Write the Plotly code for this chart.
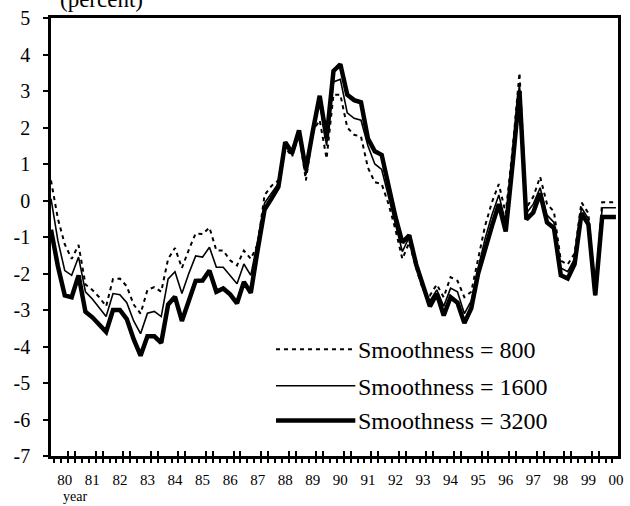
import plotly.graph_objects as go

# quarterly observations, 1979Q3 .. 2000Q1 (x = year + (quarter-1)/4)
start_year = 1979.5
n_points = 83
quarters = [start_year + 0.25 * i for i in range(n_points)]

smooth_800 = [
    0.55, -0.5,
    -1.2, -1.6, -1.22, -2.3,
    -2.45, -2.65, -2.9, -2.15,
    -2.14, -2.35, -2.85, -3.1,
    -2.45, -2.37, -2.5, -1.6,
    -1.3, -1.85, -1.35, -0.9,
    -0.92, -0.74, -1.37, -1.37,
    -1.64, -1.78, -1.37, -1.6,
    -1.2, 0.15, 0.4, 0.55,
    1.45, 1.2, 1.85, 0.55,
    1.9, 2.2, 1.15, 2.9,
    2.9, 2.0, 1.8, 1.75,
    0.9, 0.5, 0.45, -0.1,
    -0.8, -1.6, -1.15, -1.85,
    -2.45, -2.6, -2.3, -2.65,
    -2.1, -2.2, -2.65, -2.5,
    -1.6, -0.7, -0.05, 0.45,
    -0.35, 1.4, 3.5, -0.2,
    0.1, 0.65, -0.1, -0.3,
    -1.65, -1.75, -1.45, -0.05,
    -0.35, -2.55, -0.05, -0.05,
    -0.05,
]

smooth_1600 = [
    0.05, -1.1,
    -1.92, -2.05, -1.55, -2.5,
    -2.7, -2.95, -3.18, -2.55,
    -2.58, -2.8, -3.3, -3.65,
    -3.09, -3.04, -3.18, -2.15,
    -1.95, -2.55, -2.0, -1.52,
    -1.55, -1.28, -1.83, -1.83,
    -2.05, -2.28, -1.74, -2.05,
    -1.1, -0.07, 0.2, 0.47,
    1.5, 1.25, 1.9, 0.7,
    1.9, 2.7, 1.5, 3.25,
    3.32, 2.4, 2.25, 2.2,
    1.5, 1.0, 0.85, 0.1,
    -0.65, -1.4, -1.0, -1.8,
    -2.4, -2.75, -2.45, -2.9,
    -2.4, -2.5, -3.1, -2.75,
    -1.85, -1.05, -0.4, 0.15,
    -0.6, 1.2, 3.2, -0.35,
    -0.1, 0.35, -0.4, -0.6,
    -1.85, -1.95, -1.6, -0.2,
    -0.5, -2.6, -0.2, -0.2,
    -0.2,
]

smooth_3200 = [
    -0.8, -1.8,
    -2.6, -2.65, -2.05, -3.05,
    -3.2, -3.4, -3.6, -3.0,
    -3.0, -3.25, -3.8, -4.25,
    -3.72, -3.72, -3.9, -2.85,
    -2.64, -3.3, -2.7, -2.2,
    -2.19, -1.92, -2.5, -2.41,
    -2.57, -2.82, -2.23, -2.53,
    -1.35, -0.25, 0.05, 0.37,
    1.6, 1.3, 1.92, 0.84,
    1.9, 2.87, 1.7, 3.55,
    3.73, 2.9, 2.75, 2.69,
    1.7, 1.35, 1.25, 0.4,
    -0.45, -1.15, -0.95, -1.75,
    -2.35, -2.9, -2.55, -3.15,
    -2.65, -2.8, -3.36, -2.95,
    -2.0, -1.3, -0.7, -0.1,
    -0.85, 1.0, 3.0, -0.52,
    -0.33, 0.2, -0.6, -0.75,
    -2.05, -2.14, -1.74, -0.35,
    -0.65, -2.6, -0.45, -0.45,
    -0.45,
]

series_names = ["Smoothness = 800", "Smoothness = 1600", "Smoothness = 3200"]

year_ticks = list(range(1980, 2001))
year_labels = [f"{y % 100:02d}" for y in year_ticks]
y_ticks = list(range(-7, 6))
y_labels = [str(v) for v in y_ticks]

FONT = "Times New Roman, Liberation Serif, DejaVu Serif, serif"

fig = go.Figure()
styles = [
    dict(color="black", width=2, dash="4px,4px"),
    dict(color="black", width=1.6),
    dict(color="black", width=4.5),
]
for name, vals, st in zip(series_names, [smooth_800, smooth_1600, smooth_3200], styles):
    fig.add_trace(go.Scatter(x=quarters, y=vals, mode="lines", name=name,
                             line=st, showlegend=False))

# invisible trace to drive the overlay axis with crossing ticks
fig.add_trace(go.Scatter(x=[quarters[0]], y=[0], xaxis="x2", mode="markers",
                         marker=dict(opacity=0), showlegend=False, hoverinfo="skip"))

cross_ticks = []
for y in year_ticks[:-1]:
    cross_ticks += [y + 0.125, y + 0.375]

fig.update_layout(
    width=630, height=506,
    margin=dict(l=51, r=7, t=13, b=50),
    paper_bgcolor="white", plot_bgcolor="white",
    font=dict(family=FONT, color="black"),
    xaxis=dict(
        range=[1979.5, 2000.075], tickmode="array", tickvals=year_ticks, ticktext=year_labels,
        ticks="", showgrid=False, zeroline=False, showline=True, linecolor="black",
        linewidth=2.5, mirror=True, tickfont=dict(size=15, family=FONT),
        ticklabelstandoff=8,
        minor=dict(ticks="outside", ticklen=4, tickwidth=2, tickcolor="black",
                   tick0=1979.625, dtick=0.25, showgrid=False),
    ),
    xaxis2=dict(
        overlaying="x", matches="x", anchor="y", side="bottom",
        tickmode="array", tickvals=cross_ticks, ticks="inside", ticklen=5,
        tickwidth=2, tickcolor="black", showticklabels=False, showgrid=False,
        zeroline=False, showline=False,
    ),
    yaxis=dict(
        range=[-7, 5], tickmode="array", tickvals=y_ticks, ticktext=y_labels,
        ticks="outside", ticklen=5, tickwidth=2, tickcolor="black",
        showgrid=False, zeroline=False, showline=True, linecolor="black",
        linewidth=2.5, mirror=True, tickfont=dict(size=20, family=FONT),
        ticklabelstandoff=9,
    ),
)

# hand-made legend (long line samples like the original)
def px_x(p):
    return (p - 51) / 572.0

def px_y(p):
    return (456 - p) / 443.0

legend_rows = [348, 385, 420]
for name, st, row in zip(series_names, styles, legend_rows):
    fig.add_shape(type="line", xref="paper", yref="paper",
                  x0=px_x(278), x1=px_x(358), y0=px_y(row), y1=px_y(row),
                  line=st)
    fig.add_annotation(xref="paper", yref="paper", x=px_x(359), y=px_y(row + 1),
                       xanchor="left", yanchor="middle", text=name, showarrow=False,
                       font=dict(size=24, family=FONT, color="black"))

fig.add_annotation(xref="paper", yref="paper", x=px_x(102), y=1.008, xanchor="center",
                   yanchor="bottom", text="(percent)", showarrow=False,
                   font=dict(size=23, family=FONT, color="black"))
fig.add_annotation(xref="paper", yref="paper", x=px_x(75), y=px_y(497), xanchor="center",
                   yanchor="middle", text="year", showarrow=False,
                   font=dict(size=14, family=FONT, color="black"))

fig.write_html("out.html")
